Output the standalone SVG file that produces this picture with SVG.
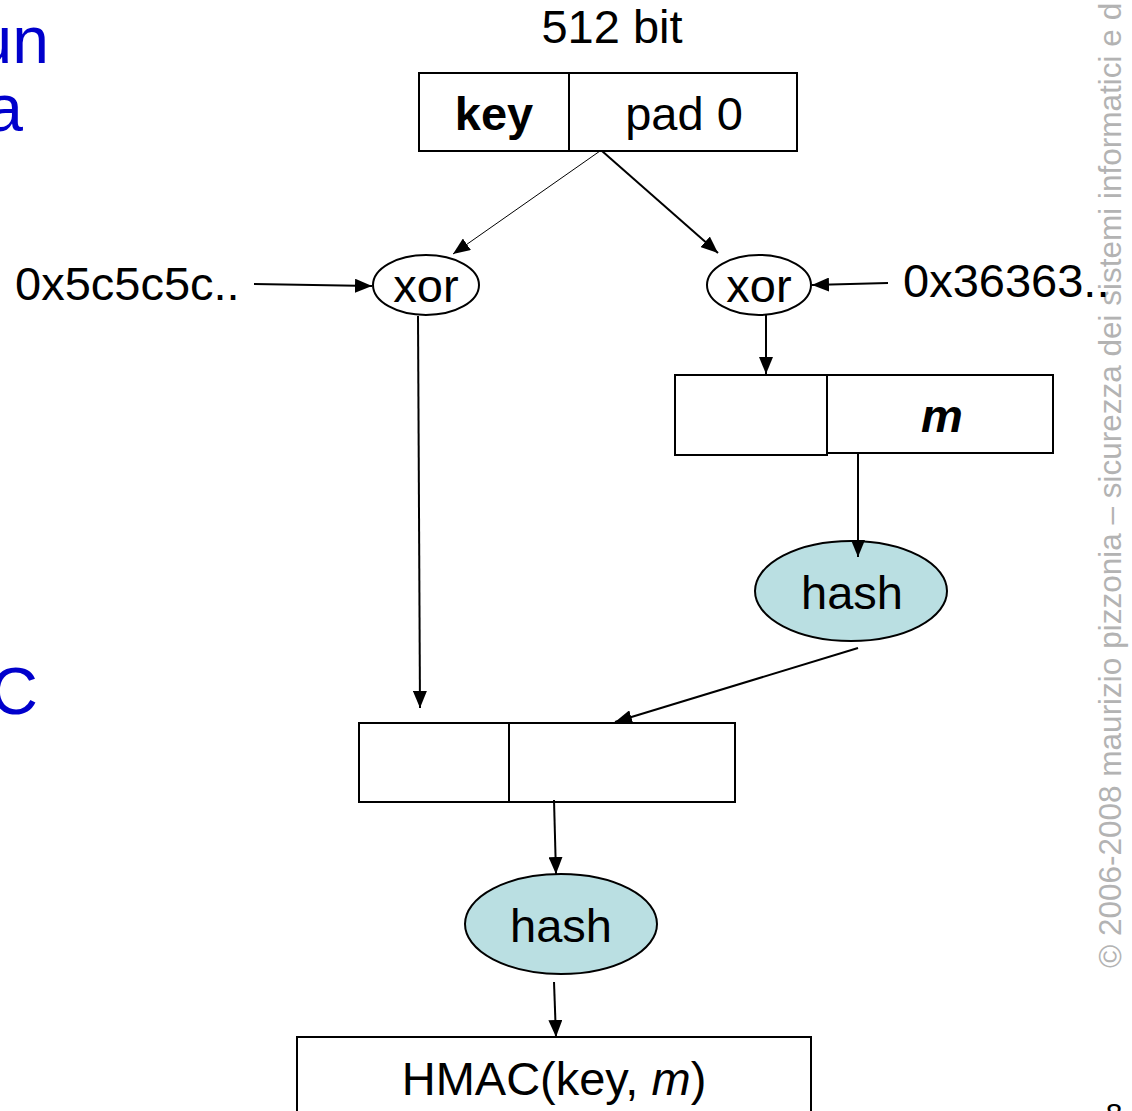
<svg xmlns="http://www.w3.org/2000/svg" width="1132" height="1111" viewBox="0 0 1132 1111">
  <style>
    .box { fill: #ffffff; stroke: #000000; stroke-width: 2; }
    .div { stroke: #000000; stroke-width: 2; }
    .xor { fill: #ffffff; stroke: #000000; stroke-width: 2; }
    .hash { fill: #badfe2; stroke: #000000; stroke-width: 2; }
    .lbl { font-family: "Liberation Sans", Arial, sans-serif; font-size: 47px; fill: #000000; }
    .mid { text-anchor: middle; }
    .conn { stroke: #000000; stroke-width: 2; fill: none; marker-end: url(#arrow); }
    .thin { stroke-width: 1; }
    .blue { font-family: "Liberation Sans", Arial, sans-serif; font-size: 66px; fill: #0000cc; text-anchor: end; }
    .mark { font-family: "Liberation Sans", Arial, sans-serif; font-size: 31.5px; fill: #b3b3b3; }
  </style>
  <defs>
    <marker id="arrow" markerUnits="userSpaceOnUse" markerWidth="17" markerHeight="14" refX="17" refY="7" orient="auto">
      <path d="M0,0 L17,7 L0,14 z" fill="#000000"/>
    </marker>
  </defs>

  <rect width="1132" height="1111" fill="#ffffff"/>

  <!-- slide body text running in from the left edge -->
  <g id="slide-text">
    <text class="blue" x="49" y="63">un</text>
    <text class="blue" x="23" y="131">a</text>
    <text class="blue" x="38" y="714">C</text>
  </g>

  <!-- vertical copyright strip and page number -->
  <g id="footer">
    <text class="mark" transform="translate(1121,968) rotate(-90)">© 2006-2008 maurizio pizzonia – sicurezza dei sistemi informatici e d</text>
    <text x="1114" y="1124" font-family="Liberation Sans, Arial, sans-serif" font-size="30" text-anchor="middle" fill="#000000">8</text>
  </g>

  <g id="key-block">
    <text class="lbl mid" x="612" y="43">512 bit</text>
    <rect class="box" x="419" y="73" width="378" height="78"/>
    <line class="div" x1="569" y1="73" x2="569" y2="151"/>
    <text class="lbl mid" x="494" y="130" font-weight="bold">key</text>
    <text class="lbl mid" x="684" y="130">pad 0</text>
  </g>

  <g id="opad">
    <text class="lbl" x="15" y="300" font-size="48">0x5c5c5c..</text>
  </g>

  <g id="ipad">
    <text class="lbl" x="903" y="297" font-size="50">0x36363..</text>
  </g>

  <g id="xor-outer">
    <ellipse class="xor" cx="426" cy="285" rx="53" ry="30"/>
    <text class="lbl mid" x="426" y="302">xor</text>
  </g>

  <g id="xor-inner">
    <ellipse class="xor" cx="759" cy="285" rx="52" ry="30"/>
    <text class="lbl mid" x="759" y="302">xor</text>
  </g>

  <g id="inner-block">
    <rect class="box" x="675" y="375" width="152" height="80"/>
    <rect class="box" x="827" y="375" width="226" height="78"/>
    <text class="lbl mid" x="942" y="432" font-weight="bold" font-style="italic">m</text>
  </g>

  <g id="hash-inner">
    <ellipse class="hash" cx="851" cy="591" rx="96" ry="50"/>
    <text class="lbl mid" x="852" y="609">hash</text>
  </g>

  <g id="outer-block">
    <rect class="box" x="359" y="723" width="376" height="79"/>
    <line class="div" x1="509" y1="723" x2="509" y2="802"/>
  </g>

  <g id="hash-outer">
    <ellipse class="hash" cx="561" cy="924" rx="96" ry="50"/>
    <text class="lbl mid" x="561" y="942">hash</text>
  </g>

  <g id="hmac">
    <rect class="box" x="297" y="1037" width="514" height="90"/>
    <text class="lbl mid" x="554" y="1095" font-size="48">HMAC(key, <tspan font-style="italic">m</tspan>)</text>
  </g>

  <!-- arrows drawn last so their heads sit on top of the shapes -->
  <g id="connectors">
    <line class="conn thin" x1="600" y1="151" x2="453" y2="254"/>
    <line class="conn" x1="602" y1="151" x2="718" y2="253"/>
    <line class="conn" x1="254" y1="284" x2="372" y2="286"/>
    <line class="conn" x1="888" y1="283" x2="812" y2="285"/>
    <line class="conn" x1="766" y1="315" x2="766" y2="374"/>
    <line class="conn" x1="858" y1="452" x2="858" y2="557"/>
    <line class="conn" x1="858" y1="648" x2="615" y2="722"/>
    <line class="conn" x1="418" y1="316" x2="420" y2="708"/>
    <line class="conn" x1="554" y1="800" x2="556" y2="874"/>
    <line class="conn" x1="554" y1="982" x2="556" y2="1037"/>
  </g>
</svg>
